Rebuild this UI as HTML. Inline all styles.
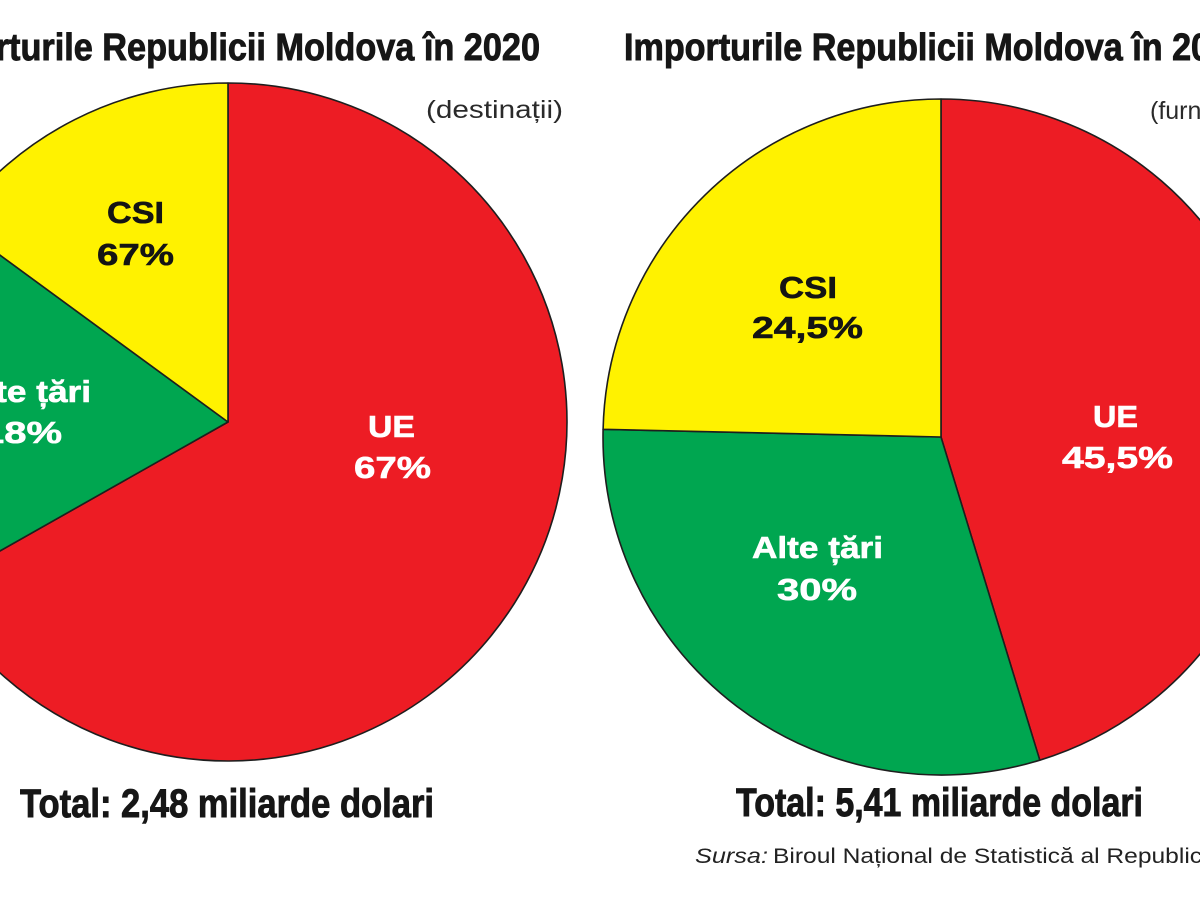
<!DOCTYPE html>
<html>
<head>
<meta charset="utf-8">
<style>
  html, body { margin: 0; padding: 0; background: #ffffff; }
  body { width: 1200px; height: 900px; overflow: hidden; }
  svg { display: block; }
  .title { font-family: "Liberation Sans", sans-serif; font-weight: bold; font-size: 38px; fill: #161616; stroke: #161616; stroke-width: 0.9px; }
  .lab { font-family: "Liberation Sans", sans-serif; font-weight: bold; font-size: 31px; stroke-width: 0.6px; }
  .dark { fill: #141414; stroke: #141414; }
  .light { fill: #ffffff; stroke: #ffffff; }
  .total { font-family: "Liberation Sans", sans-serif; font-weight: bold; font-size: 40px; fill: #161616; stroke: #161616; stroke-width: 0.9px; }
  .sub { font-family: "Liberation Sans", sans-serif; font-size: 25px; fill: #2a2a2a; }
  .src { font-family: "Liberation Sans", sans-serif; font-size: 21px; fill: #222; }
</style>
</head>
<body>
<svg width="1200" height="900" viewBox="0 0 1200 900" xmlns="http://www.w3.org/2000/svg">
  <rect x="0" y="0" width="1200" height="900" fill="#ffffff"/>

  <!-- Titles -->
  <text class="title" x="-88" y="60" textLength="628" lengthAdjust="spacingAndGlyphs">Exporturile Republicii Moldova în 2020</text>
  <text class="title" x="624" y="60" textLength="624" lengthAdjust="spacingAndGlyphs">Importurile Republicii Moldova în 2020</text>

  <!-- Left pie -->
  <g stroke="#1e1e1e" stroke-width="1.6" stroke-linejoin="round">
    <path d="M228,422 L228,83 A339,339 0 1 1 -67.1,588.9 Z" fill="#ED1C24"/>
    <path d="M228,422 L-67.1,588.9 A339,339 0 0 1 -45.6,221.8 Z" fill="#00A650"/>
    <path d="M228,422 L-45.6,221.8 A339,339 0 0 1 228,83 Z" fill="#FFF200"/>
  </g>

  <!-- Right pie -->
  <g stroke="#1e1e1e" stroke-width="1.6" stroke-linejoin="round">
    <path d="M941,437 L941,99 A338,338 0 0 1 1039.8,760.2 Z" fill="#ED1C24"/>
    <path d="M941,437 L1039.8,760.2 A338,338 0 0 1 603.1,429.3 Z" fill="#00A650"/>
    <path d="M941,437 L603.1,429.3 A338,338 0 0 1 941,99 Z" fill="#FFF200"/>
  </g>

  <!-- Subtitles -->
  <text class="sub" x="426" y="118" textLength="137" lengthAdjust="spacingAndGlyphs">(destinații)</text>
  <text class="sub" x="1150" y="119">(furnizori)</text>

  <!-- Left labels -->
  <text class="lab dark" x="107" y="223" textLength="57" lengthAdjust="spacingAndGlyphs">CSI</text>
  <text class="lab dark" x="97" y="265" textLength="77" lengthAdjust="spacingAndGlyphs">67%</text>
  <text class="lab light" x="-40" y="402" textLength="131" lengthAdjust="spacingAndGlyphs">Alte țări</text>
  <text class="lab light" x="-18" y="443" textLength="80" lengthAdjust="spacingAndGlyphs">18%</text>
  <text class="lab light" x="368" y="437" textLength="47" lengthAdjust="spacingAndGlyphs">UE</text>
  <text class="lab light" x="354" y="478" textLength="77" lengthAdjust="spacingAndGlyphs">67%</text>

  <!-- Right labels -->
  <text class="lab dark" x="779" y="298" textLength="58" lengthAdjust="spacingAndGlyphs">CSI</text>
  <text class="lab dark" x="752" y="338" textLength="111" lengthAdjust="spacingAndGlyphs">24,5%</text>
  <text class="lab light" x="1093" y="427" textLength="45" lengthAdjust="spacingAndGlyphs">UE</text>
  <text class="lab light" x="1062" y="468" textLength="111" lengthAdjust="spacingAndGlyphs">45,5%</text>
  <text class="lab light" x="752" y="558" textLength="131" lengthAdjust="spacingAndGlyphs">Alte țări</text>
  <text class="lab light" x="777" y="600" textLength="80" lengthAdjust="spacingAndGlyphs">30%</text>

  <!-- Totals -->
  <text class="total" x="20" y="817" textLength="414" lengthAdjust="spacingAndGlyphs">Total: 2,48 miliarde dolari</text>
  <text class="total" x="736" y="816" textLength="407" lengthAdjust="spacingAndGlyphs">Total: 5,41 miliarde dolari</text>

  <!-- Source -->
  <text class="src" x="695" y="863" font-style="italic" textLength="73" lengthAdjust="spacingAndGlyphs">Sursa:</text>
  <text class="src" x="773" y="863" textLength="440" lengthAdjust="spacingAndGlyphs">Biroul Național de Statistică al Republicii</text>
</svg>
</body>
</html>
